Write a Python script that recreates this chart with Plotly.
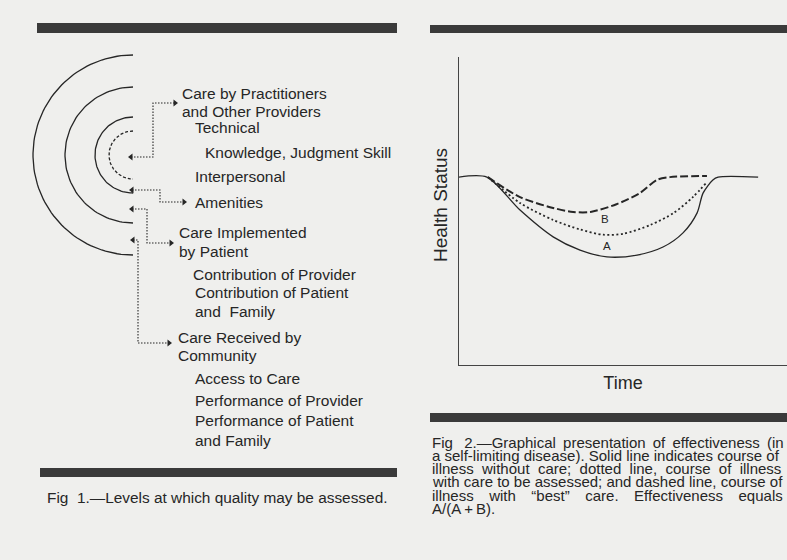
import numpy as np
import plotly.graph_objects as go

# ---------------- Fig 2 data (arbitrary units: Time 0-100, Health Status 0-100) ----------------
time_solid = [0, 8.5, 18.6, 28.7, 36.9, 45.1, 54.3, 62.2, 68.3, 72.6, 74.4, 77.4, 79.0, 91.2]
health_solid = [61, 61, 50.3, 41.6, 37.3, 35.1, 35.7, 38.3, 42.9, 49.4, 55.8, 60.1, 61, 61]

time_dotted = [8.8, 18.6, 28.7, 36.9, 44.0, 50.1, 58.4, 65.5, 71.3, 75.6]
health_dotted = [61, 52.6, 47.1, 44.0, 42.3, 42.6, 45.5, 49.4, 54.5, 59.4]

time_dashed = [8.8, 18.6, 28.7, 34.8, 40.1, 48.0, 55.1, 60.4, 64.3, 75.6]
health_dashed = [61, 54.5, 51.0, 49.7, 49.7, 52.2, 55.8, 60.1, 61, 61.4]

area_labels = ["A", "B"]
area_label_time = [45.1, 44.5]
area_label_health = [38.3, 47.1]

# ---------------- Fig 1 diagram (diagram units = page pixels) ----------------
arc_center = (133, 155)
arc_radii = [100, 68, 38, 24]
arc_dashed = [False, False, False, True]

arrow_paths_x = [[131, 153, 153, 175], [132, 160, 160, 184], [132, 147, 147, 171], [133, 138, 138, 169]]
arrow_paths_y = [[157, 157, 103, 103], [190, 190, 202, 202], [209, 209, 243, 243], [240, 240, 343, 343]]

fig1_labels = [
    "Care by Practitioners", "and Other Providers", "Technical", "Knowledge, Judgment Skill",
    "Interpersonal", "Amenities", "Care Implemented", "by Patient", "Contribution of Provider",
    "Contribution of Patient", "and  Family", "Care Received by", "Community", "Access to Care",
    "Performance of Provider", "Performance of Patient", "and Family",
]
fig1_label_x = [180, 180, 193, 203, 193, 193, 177, 177, 191, 193, 193, 176, 176, 193, 193, 193, 193]
fig1_label_y = [93, 111, 127, 152, 176, 202, 232, 251, 274, 292, 311, 337, 355, 378, 400, 420, 440]

S1 = " \u2009"
S2 = "\u00a0\u00a0"
S3 = "\u00a0\u00a0\u00a0\u2009"
fig2_caption = [
    S1.join(["Fig\u00a0", "2.\u2014Graphical", "presentation", "of", "effectiveness", "(in"]),
    "a self-limiting disease). Solid line indicates course of",
    S2.join(["illness", "without", "care;", "dotted", "line,", "course", "of", "illness"]),
    "with care to be assessed; and dashed line, course of",
    S3.join(["illness", "with", "\u201cbest\u201d", "care.", "Effectiveness", "equals"]),
    "A/(A\u2009+\u2009B).",
]
fig1_caption = "Fig\u00a0\u00a01.\u2014Levels at which quality may be assessed."

W, H = 787, 560
INK = "#262626"
BG = "#efefed"
FONT = "Liberation Sans, Arial, sans-serif"

fig = go.Figure()

# --- Fig 2 curves ---
fig.add_trace(go.Scatter(x=time_solid, y=health_solid, mode="lines",
                         line=dict(color=INK, width=1.3, shape="spline", smoothing=0.8),
                         xaxis="x", yaxis="y", hoverinfo="skip"))
fig.add_trace(go.Scatter(x=time_dotted, y=health_dotted, mode="lines",
                         line=dict(color=INK, width=1.8, dash="2px,2.5px", shape="spline", smoothing=0.8),
                         xaxis="x", yaxis="y", hoverinfo="skip"))
fig.add_trace(go.Scatter(x=time_dashed, y=health_dashed, mode="lines",
                         line=dict(color=INK, width=2, dash="8px,3px", shape="spline", smoothing=0.8),
                         xaxis="x", yaxis="y", hoverinfo="skip"))
fig.add_trace(go.Scatter(x=area_label_time, y=area_label_health, mode="text", text=area_labels,
                         textfont=dict(family=FONT, size=11.5, color=INK),
                         xaxis="x", yaxis="y", hoverinfo="skip"))

# --- Fig 1 arcs ---
theta = np.linspace(np.pi / 2, 3 * np.pi / 2, 80)
for r, dashed in zip(arc_radii, arc_dashed):
    fig.add_trace(go.Scatter(
        x=arc_center[0] + r * np.cos(theta), y=arc_center[1] - r * np.sin(theta),
        mode="lines", line=dict(color=INK, width=1.3, dash="3px,2px" if dashed else "solid"),
        xaxis="x2", yaxis="y2", hoverinfo="skip"))

# --- Fig 1 dotted connectors with arrow heads ---
for px, py in zip(arrow_paths_x, arrow_paths_y):
    fig.add_trace(go.Scatter(x=px, y=py, mode="lines",
                             line=dict(color=INK, width=1.1, dash="1.5px,1.5px"),
                             xaxis="x2", yaxis="y2", hoverinfo="skip"))
    fig.add_trace(go.Scatter(x=[px[0], px[-1]], y=[py[0], py[-1]], mode="markers",
                             marker=dict(symbol=["triangle-left", "triangle-right"], size=6, color=INK),
                             xaxis="x2", yaxis="y2", hoverinfo="skip"))

# --- Fig 1 labels ---
annotations = []
for t, lx, ly in zip(fig1_labels, fig1_label_x, fig1_label_y):
    annotations.append(dict(text=t, x=lx, y=ly, xref="x2", yref="y2", xanchor="left",
                            yanchor="middle", showarrow=False,
                            font=dict(family=FONT, size=15.5, color=INK)))

annotations.append(dict(text=fig1_caption, x=45, y=497, xref="x2", yref="y2", xanchor="left",
                        yanchor="middle", showarrow=False, font=dict(family=FONT, size=15.4, color=INK)))

cap_y0, cap_dy = 442, 13.3
for i, t in enumerate(fig2_caption):
    annotations.append(dict(text=t, x=430, y=cap_y0 + i * cap_dy, xref="x2", yref="y2",
                            xanchor="left", yanchor="middle", showarrow=False,
                            font=dict(family=FONT, size=15, color=INK)))

# y-axis title (rotated)
annotations.append(dict(text="Health Status", x=440, y=205, xref="x2", yref="y2", textangle=-90,
                        xanchor="center", yanchor="middle", showarrow=False,
                        font=dict(family=FONT, size=19, color=INK)))

# --- heavy rules ---
BAR = "#3a3a3a"
shapes = []
for x0, x1, y0, y1 in [(37, 397, 23, 33), (430, 790, 25, 33), (430, 790, 413, 422), (40, 397, 468, 477)]:
    shapes.append(dict(type="rect", xref="x2", yref="y2", x0=x0, x1=x1, y0=y0, y1=y1,
                       fillcolor=BAR, line=dict(width=0), layer="below"))

fig.update_layout(
    width=W, height=H,
    margin=dict(l=0, r=0, t=0, b=0),
    paper_bgcolor=BG, plot_bgcolor="rgba(0,0,0,0)",
    showlegend=False,
    annotations=annotations,
    shapes=shapes,
    xaxis=dict(domain=[459 / W, 1.0], range=[0, 100], showline=True, linecolor="#444", linewidth=1.3,
               showgrid=False, zeroline=False, showticklabels=False, ticks="",
               title=dict(text="Time", font=dict(family=FONT, size=18, color=INK), standoff=11),
               fixedrange=True),
    yaxis=dict(domain=[(H - 365) / H, (H - 57) / H], range=[0, 100], showline=True, linecolor="#444",
               linewidth=1.3, showgrid=False, zeroline=False, showticklabels=False, ticks="",
               fixedrange=True),
    xaxis2=dict(domain=[0, 1], range=[0, W], visible=False, anchor="y2", fixedrange=True),
    yaxis2=dict(domain=[0, 1], range=[H, 0], visible=False, anchor="x2", fixedrange=True),
)

fig.write_html("out.html", config={"displayModeBar": False},
               post_script="document.body.style.margin='0';document.body.style.overflow='hidden';")
